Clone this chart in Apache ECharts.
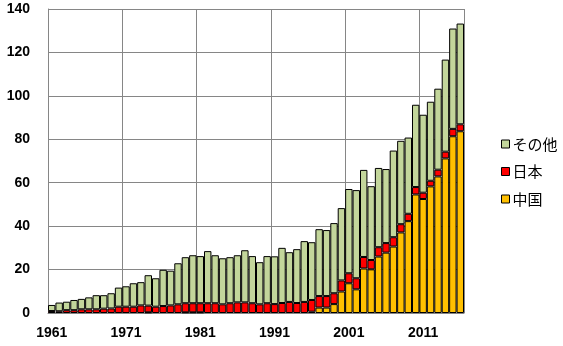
<!DOCTYPE html>
<html>
<head>
<meta charset="utf-8">
<script src="https://cdn.jsdelivr.net/npm/echarts@6/dist/echarts.min.js"></script>
<style>html,body{margin:0;padding:0;background:#fff;}#c{width:563px;height:346px;}</style>
</head>
<body>
<div id="c"></div>
<script>
var years = ['1961','1962','1963','1964','1965','1966','1967','1968','1969','1970',
'1971','1972','1973','1974','1975','1976','1977','1978','1979','1980',
'1981','1982','1983','1984','1985','1986','1987','1988','1989','1990',
'1991','1992','1993','1994','1995','1996','1997','1998','1999','2000',
'2001','2002','2003','2004','2005','2006','2007','2008','2009','2010',
'2011','2012','2013','2014','2015','2016'];

var china = [null,null,null,null,null,null,null,null,null,null,
null,null,null,0.3,null,null,null,null,0.3,0.3,
0.3,null,null,null,null,null,null,null,null,null,
null,null,null,null,null,0.6,2.5,2.5,4.1,9.9,
13.7,10.9,20.5,20.1,26.0,27.8,30.6,37.1,42.3,54.6,
52.5,58.3,62.9,71.2,81.4,83.7];

var japan = [0.9,0.8,1.3,1.3,1.7,1.7,1.7,2.0,2.1,2.9,
2.9,2.9,3.5,3.1,2.9,3.2,3.5,4.0,4.2,4.2,
4.2,4.5,4.5,4.0,4.5,4.9,4.9,4.5,4.0,4.5,
4.1,4.6,5.1,4.6,5.1,5.4,5.3,5.3,5.0,5.1,
4.6,5.1,5.3,4.3,4.3,4.4,4.3,3.8,3.4,3.4,
2.9,2.6,3.1,3.1,3.4,3.2];

var other = [2.8,4.0,3.9,4.7,4.8,5.5,6.5,6.2,7.0,8.8,
9.4,10.8,10.7,14.0,13.1,16.7,16.0,18.9,21.2,22.1,
21.7,24.0,22.1,21.2,21.2,21.7,24.0,21.7,19.4,21.7,
22.0,25.4,22.9,24.8,28.0,26.6,30.8,30.4,32.3,33.3,
38.8,40.6,40.1,34.0,36.5,34.1,39.9,38.4,35.1,37.9,
35.9,36.4,37.3,42.4,46.2,46.4];

var yTicks = [0,20,40,60,80,100,120,140];

var chart = echarts.init(document.getElementById('c'), null, {renderer:'canvas'});
var axisFont = {fontFamily:'Liberation Sans, Arial, sans-serif', fontWeight:'bold', fontSize:14, color:'#000'};
var gridColor = '#868686';
function barSeries(name, data, color){
  return {
    name:name, type:'bar', stack:'total', data:data,
    barCategoryGap:'0%',
    itemStyle:{color:color, borderColor:'#000', borderWidth:1},
    emphasis:{disabled:true}
  };
}
chart.setOption({
  animation:false,
  grid:{left:48, right:99, top:9, bottom:33, containLabel:false},
  legend:{
    orient:'vertical', left:496, top:131,
    itemWidth:8, itemHeight:8, itemGap:11.5,
    icon:'rect',
    data:['その他','日本','中国'],
    textStyle:{fontFamily:'Noto Sans CJK JP', fontSize:15, color:'#000', lineHeight:16, padding:[0,0,0,-2]},
    itemStyle:{borderColor:'#000', borderWidth:1}
  },
  xAxis:{
    type:'category', data:years, boundaryGap:true,
    axisLine:{lineStyle:{color:gridColor, width:1}},
    axisTick:{show:false},
    axisLabel:Object.assign({interval:function(i){return i%10===0;}, margin:13}, axisFont),
    splitLine:{show:true, interval:function(i){return i%10===0;}, lineStyle:{color:gridColor, width:1}}
  },
  yAxis:{
    type:'value', min:yTicks[0], max:yTicks[yTicks.length-1], interval:20,
    axisLine:{show:true, lineStyle:{color:gridColor, width:1}},
    axisTick:{show:false},
    axisLabel:Object.assign({margin:18}, axisFont),
    splitLine:{show:true, lineStyle:{color:gridColor, width:1}}
  },
  series:[
    barSeries('中国', china, '#FFC000'),
    barSeries('日本', japan, '#FF0000'),
    barSeries('その他', other, '#C3D69B')
  ]
});
</script>
</body>
</html>
